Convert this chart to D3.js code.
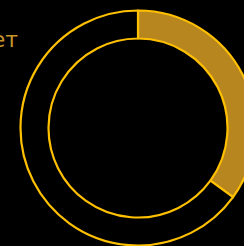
<html>
<head>
<script src="https://d3js.org/d3.v7.min.js"></script>
<style>
  body{ margin:0; background:#000; }
</style>
</head>
<body>
<div id="graph"></div>
<script>
  var title = "Бюджет";
  var categories = ["Израсходовано", "Остаток"];
  var values = [35, 65];
  var fills = ["#b8861f", "#000000"];

  var width = 244, height = 246;
  var cx = 138, cy = 128;
  var outerR = 117.5, innerR = 89.5;

  var svg = d3.select("#graph").append("svg")
    .attr("width", width)
    .attr("height", height)
    .style("display", "block")
    .style("background", "#000");

  svg.append("text")
    .attr("x", 18)
    .attr("y", 47)
    .attr("text-anchor", "end")
    .attr("font-family", "DejaVu Sans, sans-serif")
    .attr("font-size", 22)
    .attr("fill", "#c8962a")
    .text(title);

  var data = categories.map(function(c, i){ return {name:c, value:values[i]}; });

  var pie = d3.pie().sort(null).value(function(d){ return d.value; });
  var arc = d3.arc().innerRadius(innerR).outerRadius(outerR);

  var g = svg.append("g").attr("transform", "translate(" + cx + "," + cy + ")");

  g.selectAll("path")
    .data(pie(data))
    .enter()
    .append("path")
    .attr("d", arc)
    .attr("fill", function(d, i){ return fills[i]; })
    .attr("stroke", "#ffc000")
    .attr("stroke-width", 2.2)
    .attr("stroke-linejoin", "round");
</script>
</body>
</html>
